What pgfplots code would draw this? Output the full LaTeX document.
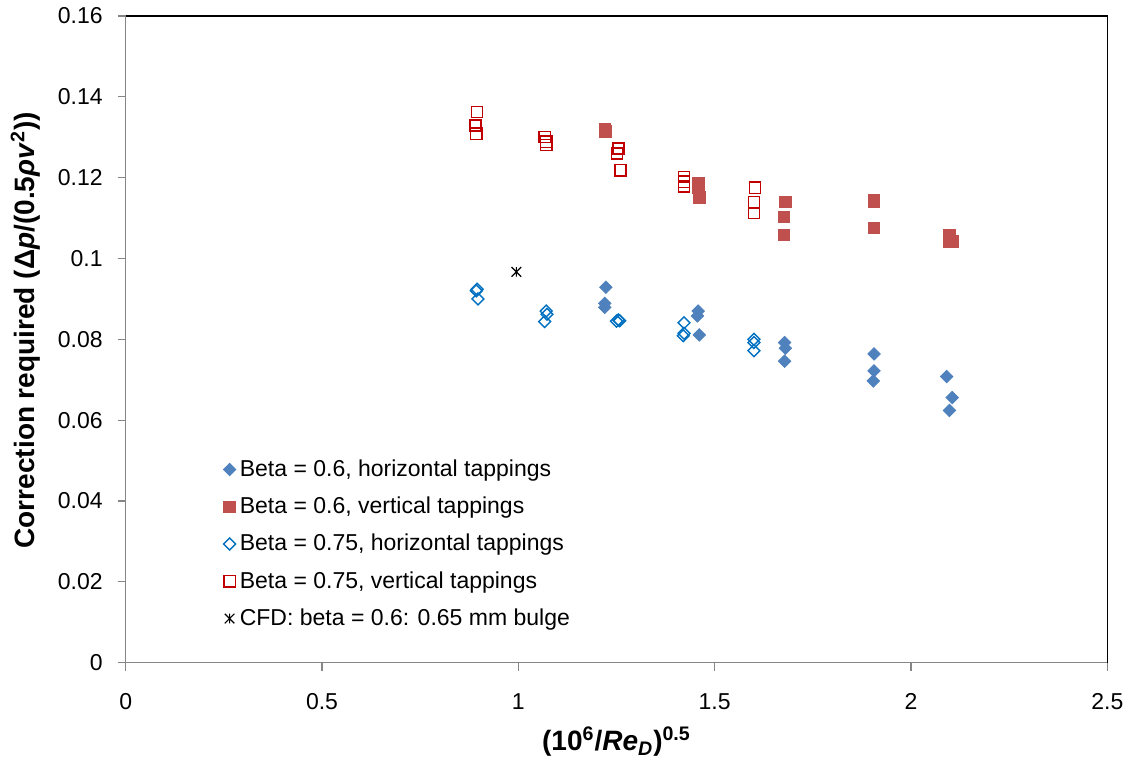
\documentclass[border=0pt]{standalone}
\usepackage{fontspec}
\setmainfont{Liberation Sans}
\usepackage{pgfplots}
\pgfplotsset{compat=1.18}
\definecolor{fillblue}{HTML}{4F81BD}
\definecolor{fillred}{HTML}{C0504D}
\definecolor{openblue}{HTML}{0070C0}
\definecolor{openred}{HTML}{C00000}
\definecolor{axisgrey}{HTML}{868686}
% Excel-like star: an X with a vertical bar
\pgfdeclareplotmark{xstar}{%
  \pgfpathmoveto{\pgfqpoint{-\pgfplotmarksize}{-\pgfplotmarksize}}%
  \pgfpathlineto{\pgfqpoint{\pgfplotmarksize}{\pgfplotmarksize}}%
  \pgfpathmoveto{\pgfqpoint{-\pgfplotmarksize}{\pgfplotmarksize}}%
  \pgfpathlineto{\pgfqpoint{\pgfplotmarksize}{-\pgfplotmarksize}}%
  \pgfpathmoveto{\pgfqpoint{0pt}{-\pgfplotmarksize}}%
  \pgfpathlineto{\pgfqpoint{0pt}{\pgfplotmarksize}}%
  \pgfusepathqstroke}
\begin{document}
\begin{tikzpicture}
\begin{axis}[
  scale only axis, width=490.8pt, height=323.35pt,
  xmin=0, xmax=2.5, ymin=0, ymax=0.16,
  xtick={0,0.5,1,1.5,2,2.5},
  ytick={0,0.02,0.04,0.06,0.08,0.1,0.12,0.14,0.16},
  scaled y ticks=false,
  axis lines*=left,
  axis line style={draw=axisgrey, line width=0.6pt},
  tick align=outside, major tick length=4pt,
  tick style={axisgrey, line width=0.6pt},
  /pgf/number format/assume math mode=true,
  tick label style={font=\fontsize{11.5}{13.8}\selectfont},
  yticklabel style={/pgf/number format/fixed, /pgf/number format/precision=2, xshift=-4pt},
  xticklabel style={yshift=-8pt},
  xlabel={\textbf{(10\textsuperscript{6}/\textit{Re}\textsubscript{\textit{D}})\textsuperscript{0.5}}},
  ylabel={\textbf{Correction required (Δ\textit{p}/(0.5\textit{ρv}\textsuperscript{2}))}},
  label style={font=\fontsize{14}{16.8}\selectfont},
  xlabel style={at={(axis description cs:0.5,-0.122)}, anchor=center},
  ylabel style={at={(axis description cs:-0.102,0.514)}, anchor=center},
  legend style={at={(0.093,0.327)}, anchor=north west, draw=none, fill=none,
    font=\fontsize{11.5}{13.8}\selectfont, row sep=4.8pt},
  legend cell align=left,
  clip=false,
]
\addplot[only marks, mark=square*, mark size=2.2pt,
  mark options={rotate=45, fill=fillblue, draw=fillblue}] coordinates {
  (1.223,0.0929) (1.220,0.0889) (1.220,0.0879)
  (1.458,0.0870) (1.456,0.0858) (1.461,0.0811)
  (1.678,0.0792) (1.680,0.0778) (1.678,0.0746)
  (1.906,0.0764) (1.906,0.0722) (1.904,0.0697)
  (2.091,0.0708) (2.105,0.0656) (2.098,0.0624)};
\addlegendentry{Beta = 0.6, horizontal tappings}
\addplot[only marks, mark=square*, mark size=2.9pt,
  mark options={fill=fillred, draw=fillred}] coordinates {
  (1.220,0.1320) (1.222,0.1314)
  (1.458,0.1186) (1.458,0.1175) (1.461,0.1151)
  (1.680,0.1140) (1.676,0.1103) (1.676,0.1058)
  (1.906,0.1145) (1.906,0.1141) (1.906,0.1076)
  (2.098,0.1057) (2.098,0.1042) (2.105,0.1042)};
\addlegendentry{Beta = 0.6, vertical tappings}
\addplot[only marks, mark=square, mark size=2.1pt,
  mark options={rotate=45, draw=openblue, line width=0.7pt}] coordinates {
  (0.895,0.0924) (0.893,0.0920) (0.897,0.0900)
  (1.071,0.0870) (1.073,0.0862) (1.067,0.0844)
  (1.255,0.0848) (1.250,0.0845) (1.258,0.0846)
  (1.422,0.0841) (1.422,0.0815) (1.420,0.0809)
  (1.600,0.0800) (1.600,0.0792) (1.600,0.0772)};
\addlegendentry{Beta = 0.75, horizontal tappings}
\addplot[only marks, mark=square, mark size=2.8pt,
  mark options={draw=openred, line width=0.7pt}] coordinates {
  (0.895,0.1362) (0.891,0.1329) (0.893,0.1309)
  (1.067,0.1301) (1.071,0.1289) (1.071,0.1281)
  (1.255,0.1272) (1.251,0.1260) (1.260,0.1218)
  (1.422,0.1202) (1.422,0.1190) (1.422,0.1178)
  (1.603,0.1175) (1.600,0.1139) (1.600,0.1113)};
\addlegendentry{Beta = 0.75, vertical tappings}
\addplot[only marks, mark=xstar, mark size=2.4pt,
  mark options={draw=black, line width=0.6pt}] coordinates {(0.995,0.0967)};
\addlegendentry{CFD: beta = 0.6: 0.65 mm bulge}
\draw[black, line width=0.6pt] (rel axis cs:0,1) -- (rel axis cs:1,1) -- (rel axis cs:1,0);
\end{axis}
\pgfresetboundingbox
\path (current axis.south west) ++(-62.85pt,-51.15pt);
\path (current axis.north east) ++(13.35pt,8pt);
\end{tikzpicture}
\end{document}
